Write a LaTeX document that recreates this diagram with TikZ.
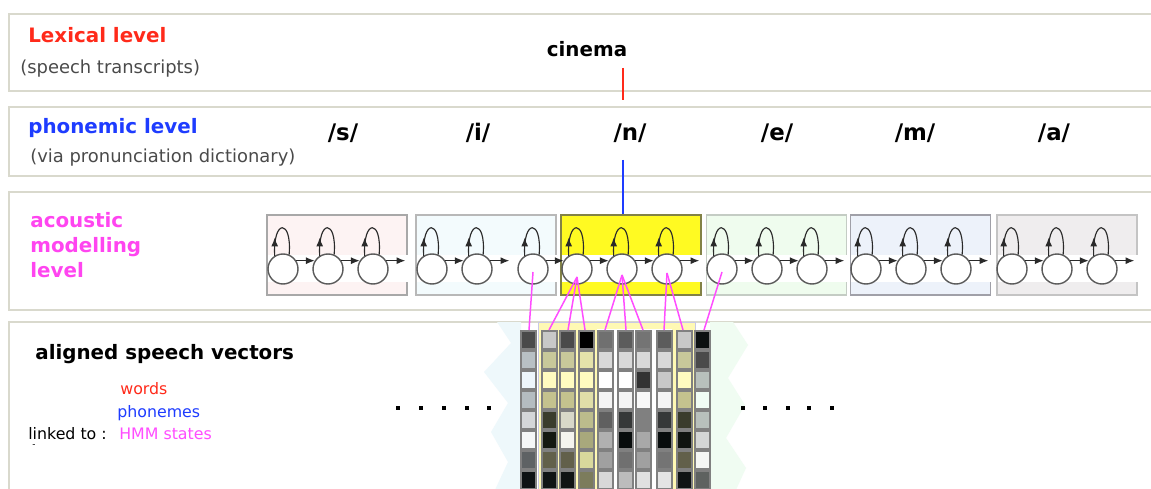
\documentclass[tikz,border=0pt]{standalone}
\usepackage{fontspec}
\setmainfont{DejaVu Sans}
\usetikzlibrary{arrows.meta}
\definecolor{panelc}{HTML}{D9D9CD}
\definecolor{lexred}{HTML}{FF2A1A}
\definecolor{phblue}{HTML}{1E3CFF}
\definecolor{hmmmag}{HTML}{FF45F0}
\definecolor{subgray}{HTML}{4A4A4A}
\definecolor{circd}{HTML}{5A5A5A}
\definecolor{arrd}{HTML}{2A2A2A}
\definecolor{magl}{HTML}{FF4DFF}
\definecolor{cellb}{HTML}{808080}
\definecolor{pal1}{HTML}{FDF3F3}
\definecolor{pal2}{HTML}{F3FBFD}
\definecolor{pal3}{HTML}{FFFA22}
\definecolor{pal4}{HTML}{EFFCEE}
\definecolor{pal5}{HTML}{EDF2FA}
\definecolor{pal6}{HTML}{EFEDEE}
\definecolor{yelbg}{HTML}{FFF9B4}
\definecolor{yelbd}{HTML}{C8C8E6}
\definecolor{cyanbg}{HTML}{EEF8FB}
\definecolor{greenbg}{HTML}{F0FCF2}
\tikzset{
  panel/.style={draw=panelc, line width=1.7pt},
  lbl/.style={anchor=base west, inner sep=0pt},
  title/.style={lbl, font=\fontsize{11.3}{13.9}\selectfont\bfseries},
  sub/.style={lbl, font=\fontsize{10.2}{12}\selectfont, text=subgray},
  small/.style={lbl, font=\fontsize{9}{11}\selectfont},
  phon/.style={anchor=base, inner sep=0pt, font=\fontsize{13}{15}\selectfont\bfseries},
  hmmbox/.style={rectangle, minimum width=2.8cm, minimum height=1.6cm, line width=0.85pt, inner sep=0pt},
  state/.style={circle, draw=circd, fill=white, line width=0.8pt, minimum size=0.6cm, inner sep=0pt},
  harr/.style={draw=arrd, line width=0.65pt, -{Latex[length=5pt,width=4pt]}},
  loopc/.style={draw=arrd, line width=0.65pt},
  magline/.style={draw=magl, line width=0.85pt},
}
\begin{document}
\begin{tikzpicture}[x=0.02cm,y=-0.02cm]
\useasboundingbox (0,0) rectangle (1151,489);
\fill[white] (0,0) rectangle (1151,489);
% panels
\draw[panel] (1160,14) -- (9,14) -- (9,91) -- (1160,91);
\draw[panel] (1160,107) -- (9,107) -- (9,176) -- (1160,176);
\draw[panel] (1160,192) -- (9,192) -- (9,310) -- (1160,310);
\draw[panel] (1160,322) -- (9,322) -- (9,500);
% lexical level
\node[title, text=lexred] (lex) at (28,43) {Lexical level};
\node[sub] (lexsub) at (20,74) {(speech transcripts)};
\node[phon, font=\fontsize{11.3}{13}\selectfont\bfseries] (cinema) at (587,57) {cinema};
\coordinate (r1) at (623,68);
\coordinate (r2) at (623,100);
\draw[lexred, line width=1.1pt] (r1) -- (r2);
% phonemic level
\node[title, text=phblue] (phl) at (28,134) {phonemic level};
\node[sub] (phsub) at (30,163) {(via pronunciation dictionary)};
\node[phon] (ps) at (343,141) {/s/};
\node[phon] (pi) at (478,141) {/i/};
\node[phon] (pn) at (630,141) {/n/};
\node[phon] (pe) at (777,141) {/e/};
\node[phon] (pm) at (915,141) {/m/};
\node[phon] (pa) at (1054,141) {/a/};
% acoustic level
\node[title, text=hmmmag] (acl1) at (30,228) {acoustic};
\node[title, text=hmmmag] (acl2) at (30,252.5) {modelling};
\node[title, text=hmmmag] (acl3) at (30,277) {level};
% HMM boxes
\node[hmmbox, fill=pal1, draw={rgb,255:red,168;green,168;blue,168}] (box1) at (337,255) {};
\node[hmmbox, fill=pal2, draw={rgb,255:red,184;green,184;blue,184}] (box2) at (486,255) {};
\node[hmmbox, fill=pal3, draw={rgb,255:red,130;green,130;blue,70}] (box3) at (631,255) {};
\node[hmmbox, fill=pal4, draw={rgb,255:red,196;green,204;blue,196}] (box4) at (776.5,255) {};
\node[hmmbox, fill=pal5, draw={rgb,255:red,160;green,160;blue,168}] (box5) at (920.5,255) {};
\node[hmmbox, fill=pal6, draw={rgb,255:red,196;green,196;blue,196}] (box6) at (1067,255) {};
\foreach \l/\r in {267/409,416/558,561/703,706/849,850/993,997/1139}
  \fill[white] ({\l+1},255) rectangle (\r,282);
\coordinate (b1) at (623,160);
\draw[phblue, line width=1.1pt] (b1) -- (b1 |- box3.north);
% states
\foreach \n/\x in {b1s1/283,b1s2/328,b1s3/373,b2s1/432,b2s2/477,b2s3/533,
  b3s1/577,b3s2/622,b3s3/667,b4s1/722,b4s2/767,b4s3/812,
  b5s1/866,b5s2/911,b5s3/956,b6s1/1012,b6s2/1057,b6s3/1102}
  \node[state] (\n) at (\x,269) {};
\foreach \n in {b1s1,b1s2,b1s3,b2s1,b2s2,b2s3,b3s1,b3s2,b3s3,
  b4s1,b4s2,b4s3,b5s1,b5s2,b5s3,b6s1,b6s2,b6s3}{
  \draw[loopc] (\n.122) .. controls +(-2,-37) and +(3,-36) .. (\n.67);
  \draw[harr] (\n.122) -- ++(0,-18);
}
\foreach \a/\b in {b1s1/b1s2,b1s2/b1s3,b2s1/b2s2,b2s3/b3s1,b3s1/b3s2,b3s2/b3s3,
  b4s1/b4s2,b4s2/b4s3,b5s1/b5s2,b5s2/b5s3,b6s1/b6s2,b6s2/b6s3}
  \draw[harr] (\a.32) -- (\b.148);
\foreach \n in {b1s3,b2s2,b3s3,b4s3,b5s3,b6s3}
  \draw[harr] (\n.32) -- ++(19,0);
% speech vectors panel
\node[title, text=black] (asv) at (35,359) {aligned speech vectors};
\node[small, text=lexred] (lw) at (120,394) {words};
\node[small, text=phblue] (lp) at (117,417) {phonemes};
\node[small, text=black] (lt) at (28,439) {linked to :};
\node[small, text=magl] (lh) at (119,439) {HMM states};
\node[lbl, font=\fontsize{5}{6}\selectfont] (tick) at (32,447) {-};
% background shapes
\fill[cyanbg] (497,322) -- (521,322) -- (521,492) -- (494,492) -- (508,462) -- (491,432)
  -- (508,403) -- (484,372) -- (511,343) -- cycle;
\fill[greenbg] (710,322) -- (733,322) -- (748,345) -- (728,378) -- (745,405) -- (726,438)
  -- (746,468) -- (735,492) -- (710,492) -- cycle;
\filldraw[fill=yelbg, draw=yelbd, line width=0.5pt] (538,322) rectangle (695,495);
\fill[white] (597,329) rectangle (672,495);
% cells
\foreach \xl/\cols in {
521/{4A4A4A,B8C0C4,EEF6FB,B4BCC0,D4D6D8,F5F7F7,5E6264,0E1214},
542/{C8C8C8,C8C89A,FFFBC0,C4C28E,3A3C2C,141810,62604A,101414},
560/{4A4A4A,C8C89A,FFFBC0,C4C28E,D8D8C8,F4F4EE,62604A,101414},
579/{000000,E4E2AA,FFFBC0,E0DEA8,BCBC8C,A8A87C,D8D89C,7C7C5C},
598/{707070,D8D8D8,FFFFFF,F4F4F4,606060,B0B0B0,A0A0A0,D8D8D8},
618/{5C5C5C,D8D8D8,FFFFFF,F4F4F4,363838,080C0C,707070,BCBCBC},
636/{747474,D8D8D8,333333,F8F8F8,808080,A8A8A8,A0A0A0,E0E0E0},
657/{5C5C5C,D8D8D8,C8C8C8,F4F4F4,363838,080C0C,747474,E4E4E4},
677/{C8C8C8,C8C89A,FFFBC0,C4C28E,3A3C2C,101410,62604A,101414},
695/{0C1010,4A4A4A,B8C0BC,F0FCF4,B8C0BC,D4D6D6,F4F6F4,5E6260}}{
  \foreach \cc [count=\r from 0] in \cols {
    \edef\tmp{\noexpand\definecolor{cellc}{HTML}{\cc}}\tmp
    \filldraw[fill=cellc, draw=cellb, line width=0.7pt] (\xl,{331+20*\r}) rectangle ++(15,18);
  }
}
\foreach \i/\x in {1/529,2/549,3/568,4/585,5/605,6/626,7/643,8/664,9/683,10/704}
  \coordinate (v\i) at (\x,330);
% alignment links
\draw[magline] ([yshift=-0.06cm]b2s3.center) -- (v1);
\foreach \v in {2,3,4} \draw[magline] ([yshift=-0.16cm]b3s1.center) -- (v\v);
\foreach \v in {5,6,7} \draw[magline] ([yshift=-0.12cm]b3s2.center) -- (v\v);
\foreach \v in {8,9} \draw[magline] ([yshift=-0.08cm]b3s3.center) -- (v\v);
\draw[magline] ([yshift=-0.06cm]b4s1.center) -- (v10);
% dots
\foreach \x in {398,421,444,467,489,743,765,788,809,832}
  \fill ({\x-2},406) rectangle ++(4,4);
\end{tikzpicture}
\end{document}
